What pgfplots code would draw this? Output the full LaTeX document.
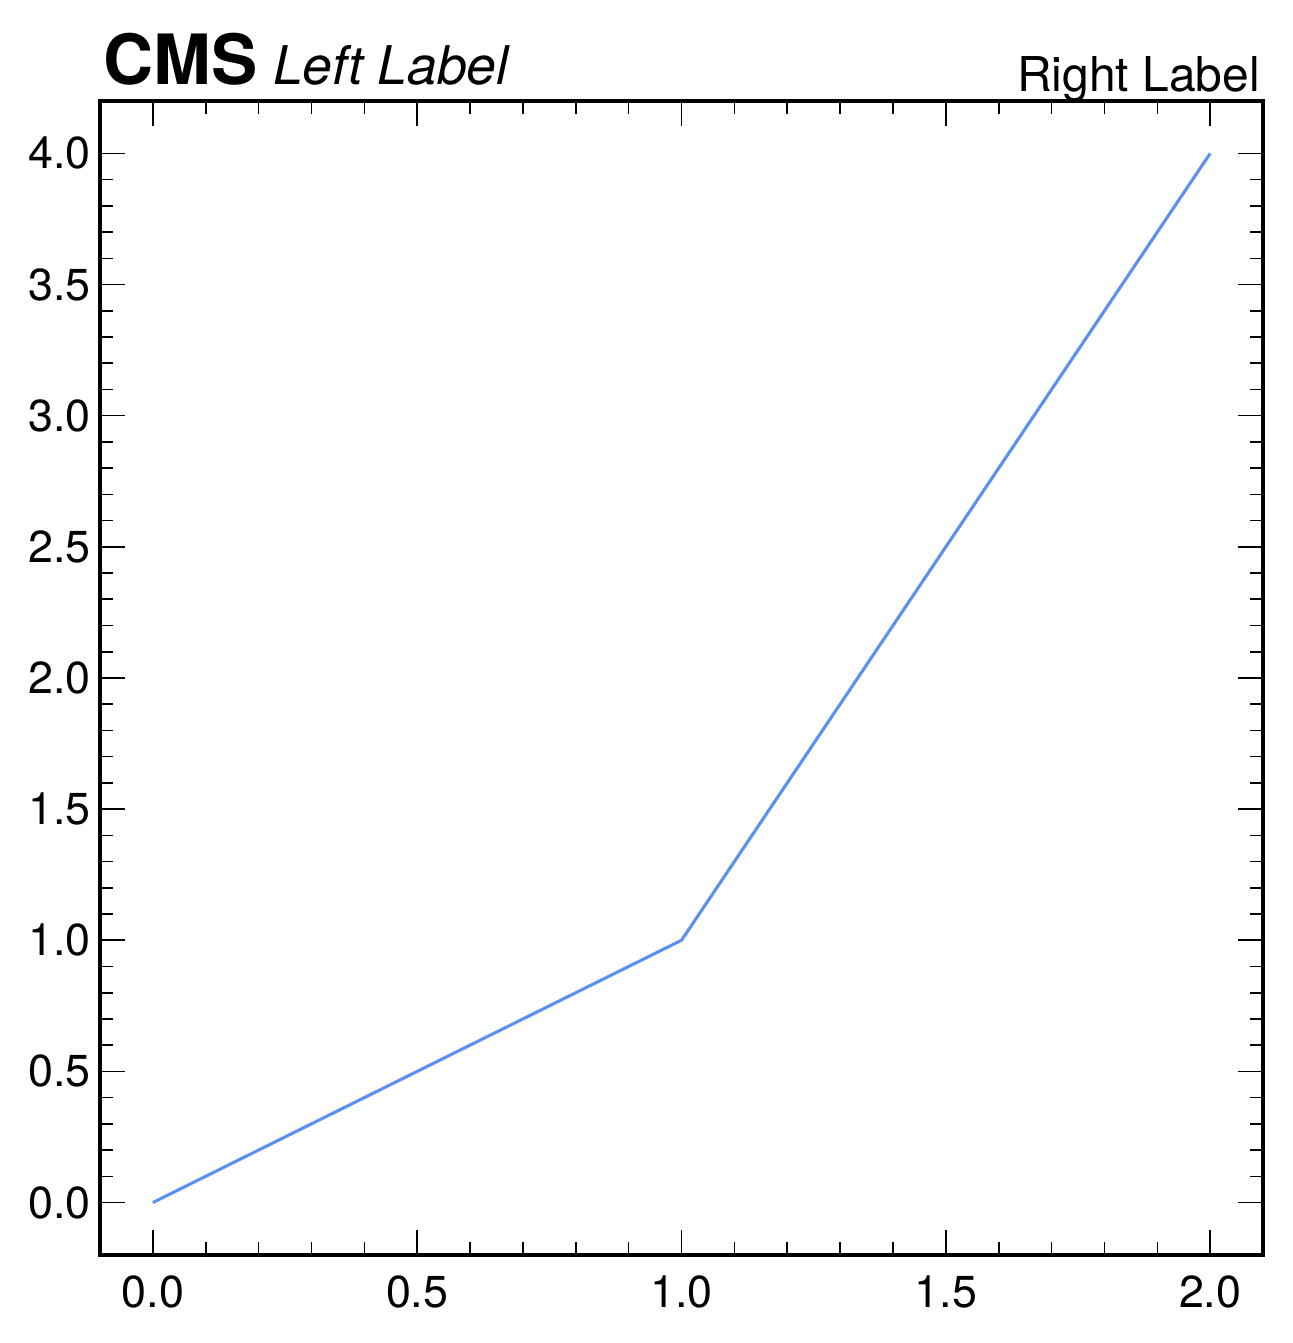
\documentclass[border=0pt]{standalone}
\usepackage{pgfplots}
\pgfplotsset{compat=1.18}
\usepackage{fontspec}
\setmainfont{TeX Gyre Heros}
\definecolor{cmsblue}{HTML}{5790FC}
\begin{document}
\begin{tikzpicture}
\path[use as bounding box] (-37.5pt,-33pt) rectangle (447pt,470.6pt);
\begin{axis}[
  scale only axis,
  width=436.125pt, height=432.75pt,
  at={(0pt,0pt)}, anchor=south west,
  xmin=-0.1, xmax=2.1, ymin=-0.2, ymax=4.2,
  xtick={0,0.5,1,1.5,2}, ytick={0,0.5,1,1.5,2,2.5,3,3.5,4},
  minor x tick num=4, minor y tick num=4,
  tick align=inside,
  major tick length=9.4pt, minor tick length=5pt,
  every tick/.style={black, line width=0.6pt},
  axis line style={line width=1.4pt},
  /pgf/number format/assume math mode=true,
  /pgf/number format/fixed, /pgf/number format/fixed zerofill, /pgf/number format/precision=1,
  tick label style={font=\fontsize{16.8}{19}\selectfont, inner sep=0pt},
  yticklabel style={xshift=-3.4pt},
  xticklabel style={yshift=-7.5pt},
  clip=false,
]
\addplot[cmsblue, line width=1.15pt] coordinates {(0,0) (1,1) (2,4)};
\node[anchor=base west, inner sep=0pt] at ([xshift=1pt,yshift=6pt]rel axis cs:0,1)
  {{\fontsize{26}{30}\selectfont\bfseries CMS}\hspace{6pt}{\fontsize{20}{24}\selectfont\itshape Left Label}};
\node[anchor=base east, inner sep=0pt] at ([xshift=-1pt,yshift=3.4pt]rel axis cs:1,1)
  {\fontsize{18}{22}\selectfont Right Label};
\end{axis}
\end{tikzpicture}
\end{document}
